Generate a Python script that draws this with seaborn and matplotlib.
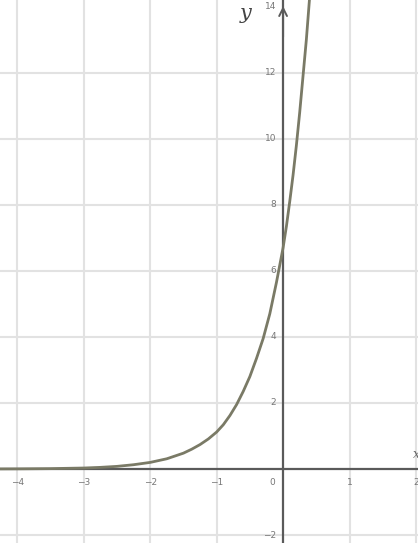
import numpy as np
import pandas as pd
import matplotlib
matplotlib.use("Agg")
import matplotlib.pyplot as plt
import seaborn as sns

# points
x_vals = [-4.3, -4.0, -3.5, -3.0, -2.75, -2.5, -2.25, -2.0, -1.75, -1.5, -1.375, -1.25, -1.125,
          -1.0, -0.9, -0.8, -0.7, -0.6, -0.5, -0.4, -0.3, -0.2, -0.1, 0.0, 0.05, 0.1, 0.15,
          0.2, 0.25, 0.3, 0.35, 0.4, 0.45]
y_vals = [0.003, 0.005, 0.012, 0.03, 0.05, 0.08, 0.13, 0.2, 0.31, 0.48, 0.6, 0.74, 0.91,
          1.12, 1.34, 1.62, 1.95, 2.35, 2.8, 3.35, 3.95, 4.7, 5.65, 6.7, 7.35, 8.1, 8.9,
          9.8, 10.8, 11.9, 13.0, 14.3, 15.6]

x_ticks = [-4, -3, -2, -1, 0, 1, 2]
y_ticks = [-2, 2, 4, 6, 8, 10, 12, 14]
x_grid = [-4, -3, -2, -1, 1, 2]
y_grid = [-2, 2, 4, 6, 8, 10, 12]

curve = pd.DataFrame({"x": x_vals, "y": y_vals})

sns.set_style("white")
fig = plt.figure(figsize=(4.18, 5.43), dpi=100)
ax = fig.add_axes([0, 0, 1, 1])

for gx in x_grid:
    ax.axvline(gx, color="#e2e2e2", lw=1.5, zorder=0)
for gy in y_grid:
    ax.axhline(gy, color="#e2e2e2", lw=1.5, zorder=0)

ax.axhline(0, color="#5a5a5a", lw=1.6, zorder=1)
ax.axvline(0, color="#5a5a5a", lw=1.6, zorder=1)
ax.annotate("", xy=(0, 14.1), xytext=(0, 13.0), annotation_clip=False,
            arrowprops=dict(arrowstyle="->", color="#5a5a5a", lw=1.4,
                            mutation_scale=14))

sns.lineplot(data=curve, x="x", y="y", color="#7a7a66", lw=2.0, ax=ax, zorder=3)

for t in x_ticks:
    if t == 0:
        ax.text(-0.16, -0.42, "0", ha="center", va="center", fontsize=6.5, color="#777777")
    else:
        ax.text(t, -0.42, str(t).replace("-", "\u2212"), ha="center", va="center",
                fontsize=6.5, color="#777777")
for t in y_ticks:
    ax.text(-0.1, t, str(t).replace("-", "\u2212"), ha="right", va="center",
            fontsize=6.5, color="#777777")

ax.text(-0.57, 13.8, "y", fontsize=15, style="italic", family="DejaVu Serif",
        color="#444444", ha="center", va="center")
ax.text(2.0, 0.45, "x", fontsize=9, style="italic", family="DejaVu Serif",
        color="#666666", ha="center", va="center")

ax.set_xlim(-4.26, 2.03)
ax.set_ylim(-2.24, 14.2)
ax.set_xlabel("")
ax.set_ylabel("")
ax.set_xticks([])
ax.set_yticks([])
for s in ax.spines.values():
    s.set_visible(False)

fig.savefig("out.png", dpi=100)
